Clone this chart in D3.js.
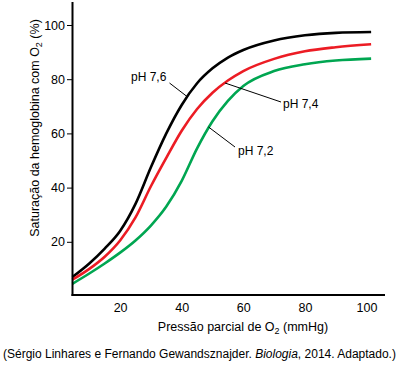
<!DOCTYPE html>
<html><head><meta charset="utf-8">
<script src="https://cdn.jsdelivr.net/npm/d3@7"></script>
<style>body{margin:0;background:#fff}svg{display:block}text{font-family:"Liberation Sans",Arial,sans-serif;fill:#000}</style>
</head><body>
<script>
const pressure = [4.5, 10, 15, 20, 25, 30, 35, 40, 45, 50, 55, 60, 70, 80, 90, 101.5];
const ph76 = [7.0, 12, 17.5, 24, 34, 47.5, 60, 70.5, 78.5, 84, 88, 90.8, 94.3, 96.2, 97.1, 97.4];
const ph74 = [6.0, 10, 14.5, 20.5, 29, 40.5, 51, 61, 69, 75, 79.5, 83, 87.5, 90.3, 91.8, 92.9];
const ph72 = [4.5, 8.3, 12, 16, 20.5, 26, 33, 42.5, 54.5, 64.5, 72, 77.5, 83, 85.5, 86.9, 87.6];
const seriesNames = ["pH 7,6", "pH 7,4", "pH 7,2"];
const xTicks = [20, 40, 60, 80, 100];
const yTicks = [20, 40, 60, 80, 100];

const W = 416, H = 365;
const svg = d3.select("body").append("svg").attr("width", W).attr("height", H);
const x = d3.scaleLinear().domain([0, 100]).range([58.5, 366.5]);
const y = d3.scaleLinear().domain([0, 100]).range([296, 25]);

// curves
const colors = ["#000000", "#ec1c24", "#00a651"];
const data = [ph76, ph74, ph72];
const line = d3.line().x(d => x(d[0])).y(d => y(d[1])).curve(d3.curveMonotoneX);
data.forEach((s, i) => {
  svg.append("path").datum(pressure.map((p, j) => [p, s[j]]))
    .attr("d", line).attr("fill", "none").attr("stroke", colors[i]).attr("stroke-width", 2.6);
});

// axes
const axG = svg.append("g");
axG.append("line").attr("x1", 72.5).attr("x2", 72.5).attr("y1", 2).attr("y2", 296).attr("stroke", "#000").attr("stroke-width", 2);
axG.append("line").attr("x1", 71.5).attr("x2", 385).attr("y1", 295).attr("y2", 295).attr("stroke", "#000").attr("stroke-width", 2);

const yAxis = svg.append("g").attr("transform", "translate(72,0)")
  .call(d3.axisLeft(y).tickValues(yTicks).tickSize(5).tickPadding(2));
yAxis.select(".domain").remove();
yAxis.selectAll("text").attr("font-size", 12.5).attr("font-family", "Liberation Sans, Arial, sans-serif");

const xAxis = svg.append("g").attr("transform", "translate(0,295)")
  .call(d3.axisBottom(x).tickValues(xTicks).tickSize(0).tickPadding(8));
xAxis.select(".domain").remove();
xAxis.selectAll("text").attr("font-size", 12.5).attr("font-family", "Liberation Sans, Arial, sans-serif");

// axis titles
const xt = svg.append("text").attr("x", 243).attr("y", 331).attr("text-anchor", "middle").attr("font-size", 12.5);
xt.append("tspan").text("Pressão parcial de O");
xt.append("tspan").attr("font-size", 9).attr("dy", 3).text("2");
xt.append("tspan").attr("dy", -3).text(" (mmHg)");

const yt = svg.append("text").attr("transform", "translate(39,128) rotate(-90)").attr("text-anchor", "middle").attr("font-size", 12.5);
yt.append("tspan").text("Saturação da hemoglobina com O");
yt.append("tspan").attr("font-size", 9).attr("dy", 3).text("2");
yt.append("tspan").attr("dy", -3).text(" (%)");

// labels with leaders
const labels = [
  {t: seriesNames[0], tx: 131, ty: 81, l: [[169.5, 83], [187, 96.5]]},
  {t: seriesNames[1], tx: 283, ty: 108, l: [[225, 83], [281, 102]]},
  {t: seriesNames[2], tx: 238, ty: 155, l: [[208.5, 127], [235, 147]]}
];
labels.forEach(d => {
  svg.append("line").attr("x1", d.l[0][0]).attr("y1", d.l[0][1]).attr("x2", d.l[1][0]).attr("y2", d.l[1][1])
    .attr("stroke", "#000").attr("stroke-width", 1);
  svg.append("text").attr("x", d.tx).attr("y", d.ty).attr("font-size", 12).text(d.t);
});

// source
const src = svg.append("text").attr("x", 3).attr("y", 358).attr("font-size", 12);
src.append("tspan").text("(Sérgio Linhares e Fernando Gewandsznajder. ");
src.append("tspan").attr("font-style", "italic").text("Biologia");
src.append("tspan").text(", 2014. Adaptado.)");
</script>
</body></html>
